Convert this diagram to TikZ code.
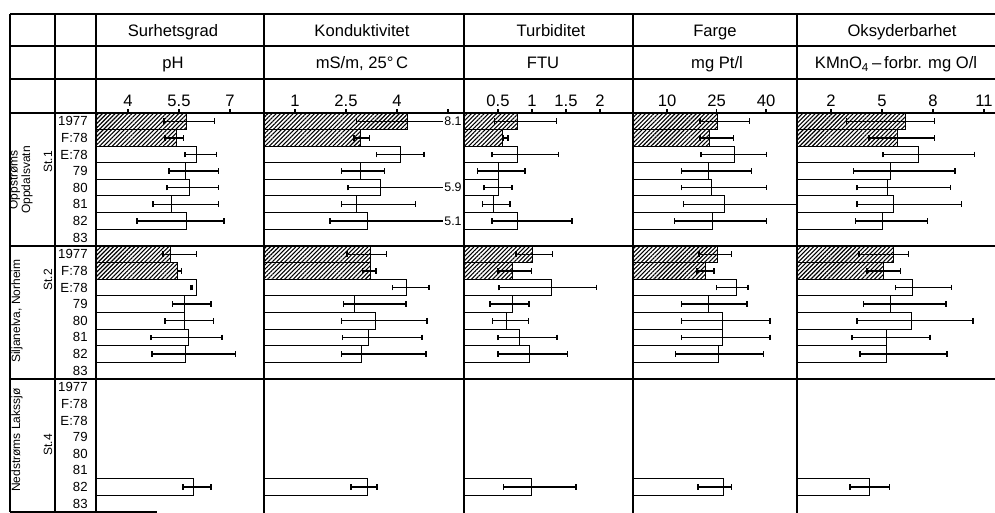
\documentclass[tikz,border=0pt]{standalone}
\usepackage{fontspec}
\setmainfont{Liberation Sans}
\usetikzlibrary{patterns.meta,arrows.meta}

\tikzset{
  grid/.style={line width=0.6pt},
  wb/.style={draw,line width=0.5pt},
  hb/.style={draw,line width=0.5pt,pattern={Lines[angle=45,distance=1.5pt,line width=0.55pt]}},
  eb/.style={line width=0.75pt,{Bar[width=2.8pt]}-{Bar[width=2.8pt]}},
  el/.style={line width=0.75pt,{Bar[width=2.8pt]}-},
  ttl/.style={font=\fontsize{8.3}{9}\selectfont,anchor=base,inner sep=0pt},
  num/.style={font=\fontsize{8.3}{9}\selectfont,anchor=base,inner sep=0pt},
  yr/.style={font=\fontsize{6.6}{7}\selectfont,anchor=east,inner sep=0pt},
  stn/.style={font=\fontsize{6}{6.2}\selectfont,rotate=90,align=center,inner sep=0pt},
  note/.style={font=\fontsize{6.2}{7}\selectfont,anchor=west,inner sep=0.5pt},
}

% #1 origin, #2 px per unit, #3 panel left, #4 block top, #5 row/value/lo/hi/bar/err
\newcommand\barblock[5]{%
  \foreach \r/\v/\a/\b/\s/\e in {#5}{%
    \pgfmathsetmacro\yt{#4+16.6*\r}%
    \draw[\s] (#3,\yt) rectangle ({#1+#2*\v},\yt+16.6);
    \draw[\e] ({#1+#2*\a},\yt+8.3) -- ({#1+#2*\b},\yt+8.3);
  }}

\begin{document}
\begin{tikzpicture}[x=0.5pt,y=-0.5pt]
\useasboundingbox (0,0) rectangle (995,513);

\node[ttl] (t1) at (173,36.5) {Surhetsgrad};
\node[ttl] (t2) at (362,36.5) {Konduktivitet};
\node[ttl] (t3) at (551,36.5) {Turbiditet};
\node[ttl] (t4) at (715,36.5) {Farge};
\node[ttl] (t5) at (902,36.5) {Oksyderbarhet};
\node[ttl] (u1) at (173,69) {pH};
\node[ttl] (u2) at (362,69) {mS/m, 25°\,C};
\node[ttl] (u3) at (543,69) {FTU};
\node[ttl] (u4) at (717,69) {mg Pt/l};
\node[ttl] (u5) at (896,69) {KMnO\textsubscript{4}\,–\,forbr. mg O/l};

\foreach \t [count=\i] in {4,5.5,7}{
  \draw[grid] ({-8+34*\t},113) -- ++(0,-4);
  \node[num] (sa\i) at ({-8+34*\t},107) {\t};}
\foreach \t [count=\i] in {1,2.5,4}{
  \node[num] (sb\i) at ({261+34*\t},107) {\t};}
\foreach \t in {1,2.5,4,5.5}
  \draw[grid] ({261+34*\t},113) -- ++(0,-4);
\foreach \t [count=\i] in {0.5,1,1.5,2}{
  \draw[grid] ({464+68*\t},113) -- ++(0,-4);
  \node[num] (sc\i) at ({464+68*\t},107) {\t};}
\foreach \t [count=\i] in {10,25,40}{
  \draw[grid] ({634+3.3*\t},113) -- ++(0,-4);
  \node[num] (sd\i) at ({634+3.3*\t},107) {\t};}
\foreach \t [count=\i] in {2,5,8,11}{
  \draw[grid] ({797+17*\t},113) -- ++(0,-4);
  \node[num] (se\i) at ({797+17*\t},107) {\t};}

\foreach \blk in {113,246,379}
  \foreach \t [count=\i from 0] in {1977,F:78,E:78,79,80,81,82,83}
    \node[yr] (yr\blk-\i) at (88,\blk+16.6*\i+8.3) {\t};

\node[stn] (stA) at (21,180) {Oppstrøms\\Oppdalsvatn};
\node[stn] (stAn) at (48,162) {St.1};
\node[stn] (stB) at (17,311) {Siljanelva, Norheim};
\node[stn] (stBn) at (48,280) {St.2};
\node[stn] (stC) at (17,440) {Nedstrøms Lakssjø};
\node[stn] (stCn) at (48,445) {St.4};

\barblock{-8}{34}{96}{113}{0/5.71/5.03/6.56/hb/eb, 1/5.44/5.06/5.65/hb/eb,
  2/6.0/5.65/6.62/wb/eb, 3/5.68/5.18/6.68/wb/eb, 4/5.82/5.12/6.68/wb/eb,
  5/5.29/4.71/6.68/wb/eb, 6/5.71/4.24/6.85/wb/eb}
\barblock{-8}{34}{96}{246}{0/5.24/5.0/6.03/hb/eb, 1/5.47/5.44/5.59/hb/eb,
  2/6.0/5.82/5.91/wb/eb, 3/5.65/5.29/6.47/wb/eb, 4/5.65/5.06/6.53/wb/eb,
  5/5.79/4.65/6.79/wb/eb, 6/5.68/4.68/7.18/wb/eb}
\barblock{-8}{34}{96}{379}{6/5.94/5.59/6.47/wb/eb}

\barblock{261}{34}{264}{113}{0/4.32/2.79/5.35/hb/el, 1/2.94/2.71/3.21/hb/eb,
  2/4.09/3.38/4.82/wb/eb, 3/2.94/2.35/3.65/wb/eb, 4/3.5/2.53/5.35/wb/el,
  5/2.82/2.35/4.56/wb/eb, 6/3.12/2.0/5.35/wb/el}
\barblock{261}{34}{264}{246}{0/3.21/2.5/3.71/hb/eb, 1/3.21/2.97/3.41/hb/eb,
  2/4.29/3.85/4.97/wb/eb, 3/2.74/2.41/4.29/wb/eb, 4/3.38/2.35/4.91/wb/eb,
  5/3.15/2.38/4.76/wb/eb, 6/2.97/2.35/4.88/wb/eb}
\barblock{261}{34}{264}{379}{6/3.12/2.62/3.44/wb/eb}
\node[note] (k1) at (443,121.3) {8.1};
\node[note] (k2) at (443,187.7) {5.9};
\node[note] (k3) at (443,220.9) {5.1};

\barblock{464}{68}{464}{113}{0/0.79/0.44/1.37/hb/eb, 1/0.57/0.56/0.66/hb/eb,
  2/0.79/0.40/1.40/wb/eb, 3/0.5/0.19/0.91/wb/eb, 4/0.5/0.28/0.72/wb/eb,
  5/0.43/0.26/0.69/wb/eb, 6/0.79/0.40/1.60/wb/eb}
\barblock{464}{68}{464}{246}{0/1.0/0.75/1.31/hb/eb, 1/0.72/0.49/1.0/hb/eb,
  2/1.28/0.5/1.96/wb/eb, 3/0.72/0.37/0.97/wb/eb, 4/0.63/0.41/0.96/wb/eb,
  5/0.81/0.49/1.38/wb/eb, 6/0.96/0.49/1.53/wb/eb}
\barblock{464}{68}{464}{379}{6/0.99/0.57/1.66/wb/eb}

\barblock{634}{3.3}{633}{113}{0/25.2/19.7/35.2/hb/eb, 1/23.0/19.7/30.3/hb/eb,
  2/30.3/20.0/40.3/wb/eb, 3/22.7/14.2/35.8/wb/eb, 4/23.6/14.2/40.3/wb/eb,
  5/27.3/14.8/49.4/wb/el, 6/23.9/12.1/40.3/wb/eb}
\barblock{634}{3.3}{633}{246}{0/25.2/19.4/29.7/hb/eb, 1/21.8/18.8/24.5/hb/eb,
  2/31.2/24.8/34.8/wb/eb, 3/22.7/14.2/34.5/wb/eb, 4/26.7/14.2/41.5/wb/eb,
  5/26.7/14.2/41.5/wb/eb, 6/25.5/12.4/39.4/wb/eb}
\barblock{634}{3.3}{633}{379}{6/27.0/19.1/29.7/wb/eb}

\barblock{797}{17}{797}{113}{0/6.41/2.88/8.12/hb/eb, 1/5.94/4.18/8.12/hb/eb,
  2/7.12/5.0/10.47/wb/eb, 3/5.47/3.29/9.35/wb/eb, 4/5.35/3.47/9.06/wb/eb,
  5/5.65/3.47/9.71/wb/eb, 6/5.0/3.41/7.71/wb/eb}
\barblock{797}{17}{797}{246}{0/5.65/3.59/6.59/hb/eb, 1/5.06/4.06/6.12/hb/eb,
  2/6.82/5.76/9.12/wb/eb, 3/5.47/3.88/8.82/wb/eb, 4/6.71/3.47/10.41/wb/eb,
  5/5.29/3.18/7.88/wb/eb, 6/5.29/3.65/8.88/wb/eb}
\barblock{797}{17}{797}{379}{6/4.24/3.06/5.47/wb/eb}

\foreach \y in {14,46,79,113,246,379}
  \draw[grid] (10,\y) -- (995,\y);
\draw[grid] (10,512) -- (157,512);
\foreach \x in {10,55}
  \draw[grid] (\x,14) -- (\x,512);
\foreach \x in {96,264,464,633,797}
  \draw[grid] (\x,14) -- (\x,513);
\end{tikzpicture}
\end{document}
